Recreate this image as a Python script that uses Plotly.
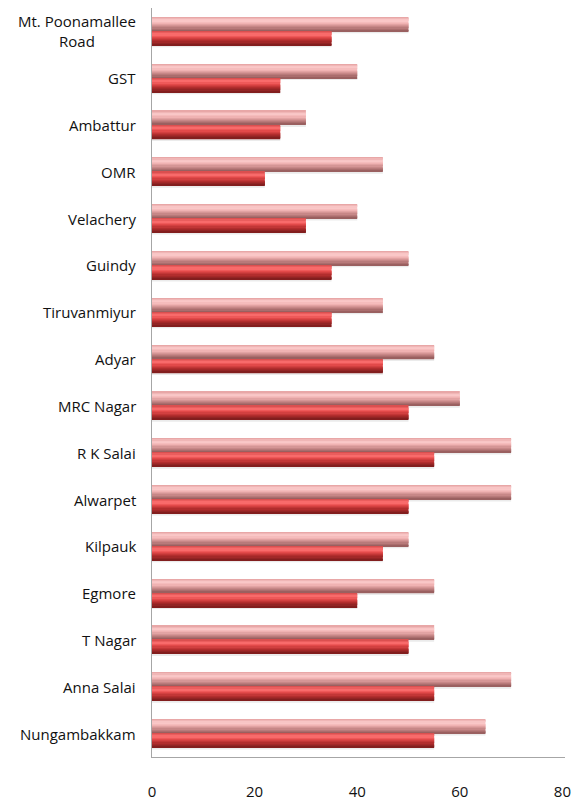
import plotly.graph_objects as go

# Localities, top to bottom
localities = [
    "Mt. Poonamallee<br>Road", "GST", "Ambattur", "OMR", "Velachery", "Guindy",
    "Tiruvanmiyur", "Adyar", "MRC Nagar", "R K Salai", "Alwarpet", "Kilpauk",
    "Egmore", "T Nagar", "Anna Salai", "Nungambakkam",
]
# Upper (light) bar of each pair
series_light = [50, 40, 30, 45, 40, 50, 45, 55, 60, 70, 70, 50, 55, 55, 70, 65]
# Lower (dark) bar of each pair
series_dark = [35, 25, 25, 22, 30, 35, 35, 45, 50, 55, 50, 45, 40, 50, 55, 55]
x_ticks = [0, 20, 40, 60, 80]

BAR_W = 0.3  # thickness of each bar in category units


def hex_to_rgb(h):
    h = h.lstrip("#")
    return tuple(int(h[i:i + 2], 16) for i in (0, 2, 4))


def lerp_color(stops, t):
    # stops: list of (position, hex) sorted by position
    for (p0, c0), (p1, c1) in zip(stops, stops[1:]):
        if p0 <= t <= p1:
            f = 0 if p1 == p0 else (t - p0) / (p1 - p0)
            a, b = hex_to_rgb(c0), hex_to_rgb(c1)
            return "rgb(%d,%d,%d)" % tuple(round(a[i] + (b[i] - a[i]) * f) for i in range(3))
    return stops[-1][1]


# vertical shading that gives the bars a rounded, glossy look
light_stops = [(0.0, "#e4a0a0"), (0.25, "#fccccc"), (0.45, "#f1b3b3"),
               (0.7, "#c98888"), (1.0, "#935a5a")]
dark_stops = [(0.0, "#d44848"), (0.25, "#ff7272"), (0.45, "#e44a4a"),
              (0.7, "#b32e2e"), (1.0, "#7a1c1c")]

N_STRIPES = 12

fig = go.Figure()


def add_shaded_bar(values, base_offset, stops):
    step = BAR_W / N_STRIPES
    for k in range(N_STRIPES):
        t = (k + 0.5) / N_STRIPES
        fig.add_trace(go.Bar(
            y=localities, x=values, orientation="h",
            offset=base_offset + k * step, width=step * 1.05,
            marker=dict(color=lerp_color(stops, t), line=dict(width=0)),
            showlegend=False, hoverinfo="x+y",
        ))


# faint shadow just beneath each bar
for vals, off in ((series_light, 0.0), (series_dark, BAR_W)):
    fig.add_trace(go.Bar(
        y=localities, x=vals, orientation="h",
        offset=off, width=0.04,
        marker=dict(color="rgba(0,0,0,0.08)", line=dict(width=0)),
        showlegend=False, hoverinfo="skip",
    ))

add_shaded_bar(series_light, -BAR_W, light_stops)
add_shaded_bar(series_dark, 0.0, dark_stops)

font_family = "'Open Sans', Lato, sans-serif"
FONT_SIZE = 15

# category labels, right-aligned to the axis with centred line wrapping
for name in localities:
    fig.add_annotation(
        x=0, xref="paper", xanchor="right", xshift=-14,
        y=name, yref="y", yanchor="middle",
        text=name, align="center", showarrow=False,
        font=dict(family=font_family, size=FONT_SIZE, color="#111111"),
    )

fig.update_layout(
    width=579, height=809,
    margin=dict(l=152, r=12, t=8, b=43),
    paper_bgcolor="white", plot_bgcolor="white",
    barmode="overlay",
    font=dict(family=font_family, size=FONT_SIZE, color="#111111"),
    xaxis=dict(
        range=[0, 80.5], tickvals=x_ticks, showgrid=False, zeroline=False,
        showline=True, linecolor="#a6a6a6", linewidth=1,
        ticks="", ticklabelstandoff=21,
        tickfont=dict(size=FONT_SIZE),
    ),
    yaxis=dict(
        type="category", categoryorder="array", categoryarray=localities,
        autorange="reversed", range=[15.5, -0.5],
        showgrid=False, zeroline=False,
        showline=True, linecolor="#a6a6a6", linewidth=1,
        showticklabels=False, ticks="",
    ),
)

fig.write_html("out.html")
